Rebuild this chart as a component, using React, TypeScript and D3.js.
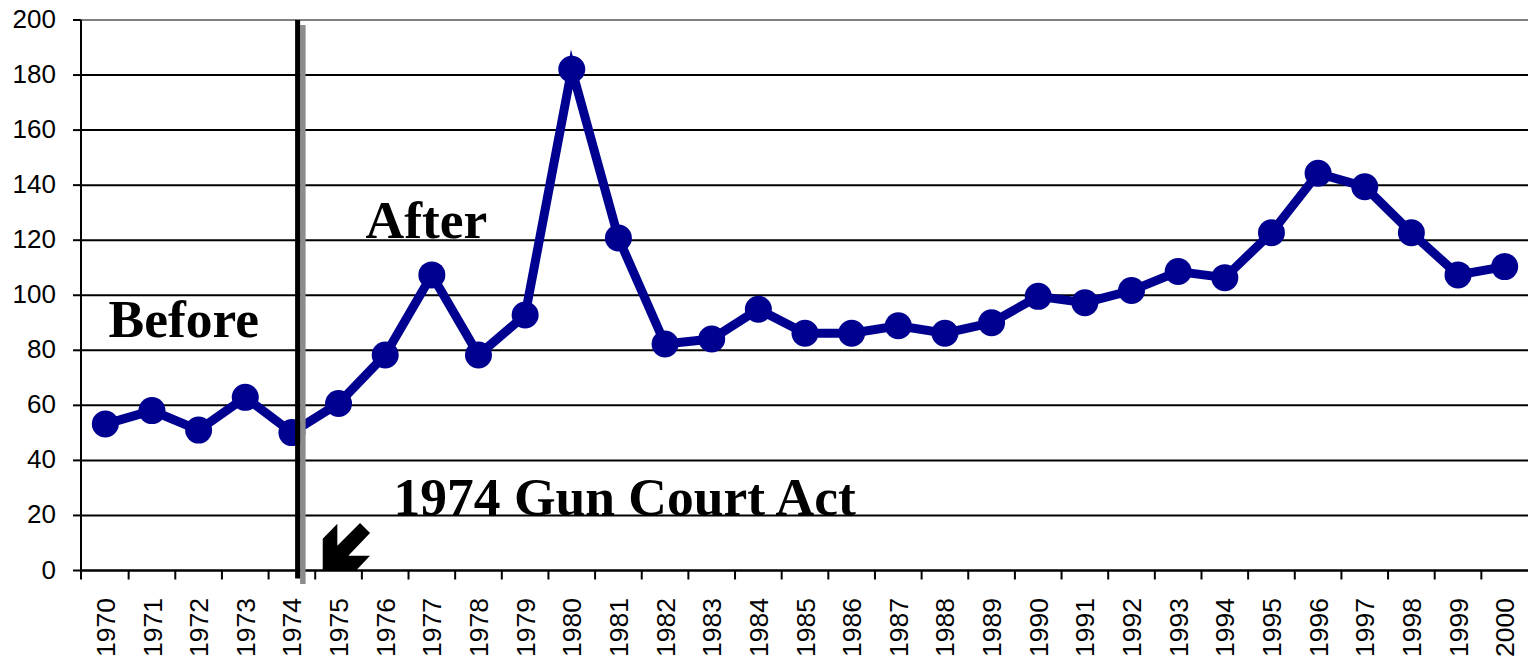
import React from "react";
import * as d3 from "d3";

const years: string[] = [
  "1970","1971","1972","1973","1974","1975","1976","1977","1978","1979",
  "1980","1981","1982","1983","1984","1985","1986","1987","1988","1989",
  "1990","1991","1992","1993","1994","1995","1996","1997","1998","1999","2000",
];
const values: number[] = [
  53.2, 58.1, 51.0, 62.9, 50.1, 60.7, 78.3, 107.4, 78.3, 92.8,
  182.1, 120.8, 82.3, 84.1, 94.9, 86.2, 86.2, 88.9, 86.2, 90.0,
  99.6, 97.3, 101.7, 108.6, 106.4, 122.7, 144.3, 139.4, 122.7, 107.4, 110.4,
];
const yTicks: number[] = [0, 20, 40, 60, 80, 100, 120, 140, 160, 180, 200];
const labelBefore = "Before";
const labelAfter = "After";
const labelAct = "1974 Gun Court Act";
const actYear = "1974";

const W = 1528;
const H = 658;
const M = { left: 82, right: 0, top: 20, bottom: 87.5 };
const LINE_COLOR = "#000090";

export default function App() {
  const x = d3.scaleBand<string>().domain(years).range([M.left, W - M.right]).padding(0);
  const y = d3.scaleLinear().domain([0, 200]).range([H - M.bottom, M.top]);
  const bw = x.bandwidth();
  const cx = (d: string) => (x(d) as number) + bw / 2;

  const line = d3
    .line<number>()
    .x((_, i) => cx(years[i]))
    .y((v) => y(v));

  const axisX = M.left - 1;
  const y0 = y(0);

  const vx = cx(actYear) + 5.7;
  const tipX = (x("1975") as number) + 7.5;
  const tipY = y0;
  const arrowRel: [number, number][] = [
    [0, 0], [0, -31.7], [14.6, -46.7], [14.6, -24.7], [37.3, -47.4],
    [47.3, -37.4], [25.6, -14.7], [47.3, -14.7], [33.3, 0],
  ];
  const arrowPts = arrowRel.map(([dx, dy]) => `${tipX + dx},${tipY + dy}`).join(" ");

  const serif = "'Liberation Serif', 'Times New Roman', serif";
  const sans = "'Liberation Sans', Arial, sans-serif";

  return (
    <svg
      width={W}
      height={H}
      style={{ position: "absolute", left: 0, top: 0, background: "#fff" }}
    >
      {yTicks.map((t) => (
        <line
          key={"g" + t}
          x1={axisX}
          x2={W}
          y1={y(t)}
          y2={y(t)}
          stroke={t === 200 ? "#808080" : "#000"}
          strokeWidth={2}
        />
      ))}
      {yTicks.map((t) => (
        <g key={"yt" + t}>
          <line x1={axisX - 8} x2={axisX} y1={y(t)} y2={y(t)} stroke="#000" strokeWidth={2} />
          <text
            x={56}
            y={y(t) + 8}
            textAnchor="end"
            fontFamily={sans}
            fontSize={26}
            fill="#000"
          >
            {t}
          </text>
        </g>
      ))}
      <line x1={axisX} x2={axisX} y1={M.top} y2={y0 + 1} stroke="#000" strokeWidth={2} />
      <line x1={axisX} x2={W} y1={y0} y2={y0} stroke="#000" strokeWidth={2} />
      {years.map((d, i) => (
        <line
          key={"xt" + d}
          x1={(x(d) as number) + (i === 0 ? -1 : 0)}
          x2={(x(d) as number) + (i === 0 ? -1 : 0)}
          y1={y0}
          y2={y0 + 9}
          stroke="#000"
          strokeWidth={2}
        />
      ))}
      {years.map((d) => (
        <text
          key={"xl" + d}
          transform={`translate(${cx(d)},${y0 + 27.5}) rotate(-90)`}
          textAnchor="end"
          dy="0.36em"
          fontFamily={sans}
          fontSize={26.5}
          fill="#000"
        >
          {d}
        </text>
      ))}

      <path
        d={line(values) || ""}
        fill="none"
        stroke={LINE_COLOR}
        strokeWidth={9}
        strokeLinejoin="miter"
        strokeMiterlimit={10}
      />
      {values.map((v, i) => (
        <circle key={"c" + i} cx={cx(years[i])} cy={y(v)} r={13.5} fill={LINE_COLOR} />
      ))}

      <rect x={vx + 2.5} y={M.top + 5} width={5.5} height={y0 + 13.5 - M.top - 5} fill="#8c8c8c" />
      <rect x={vx - 2.5} y={M.top} width={5} height={y0 + 8 - M.top} fill="#000" />

      <polygon points={arrowPts} fill="#000" />

      <text x={108.5} y={336.5} fontFamily={serif} fontWeight="bold" fontSize={53.5} fill="#000">
        {labelBefore}
      </text>
      <text x={365.5} y={237.5} fontFamily={serif} fontWeight="bold" fontSize={53.5} fill="#000">
        {labelAfter}
      </text>
      <text x={393.5} y={515} fontFamily={serif} fontWeight="bold" fontSize={53.5} fill="#000">
        {labelAct}
      </text>
    </svg>
  );
}
